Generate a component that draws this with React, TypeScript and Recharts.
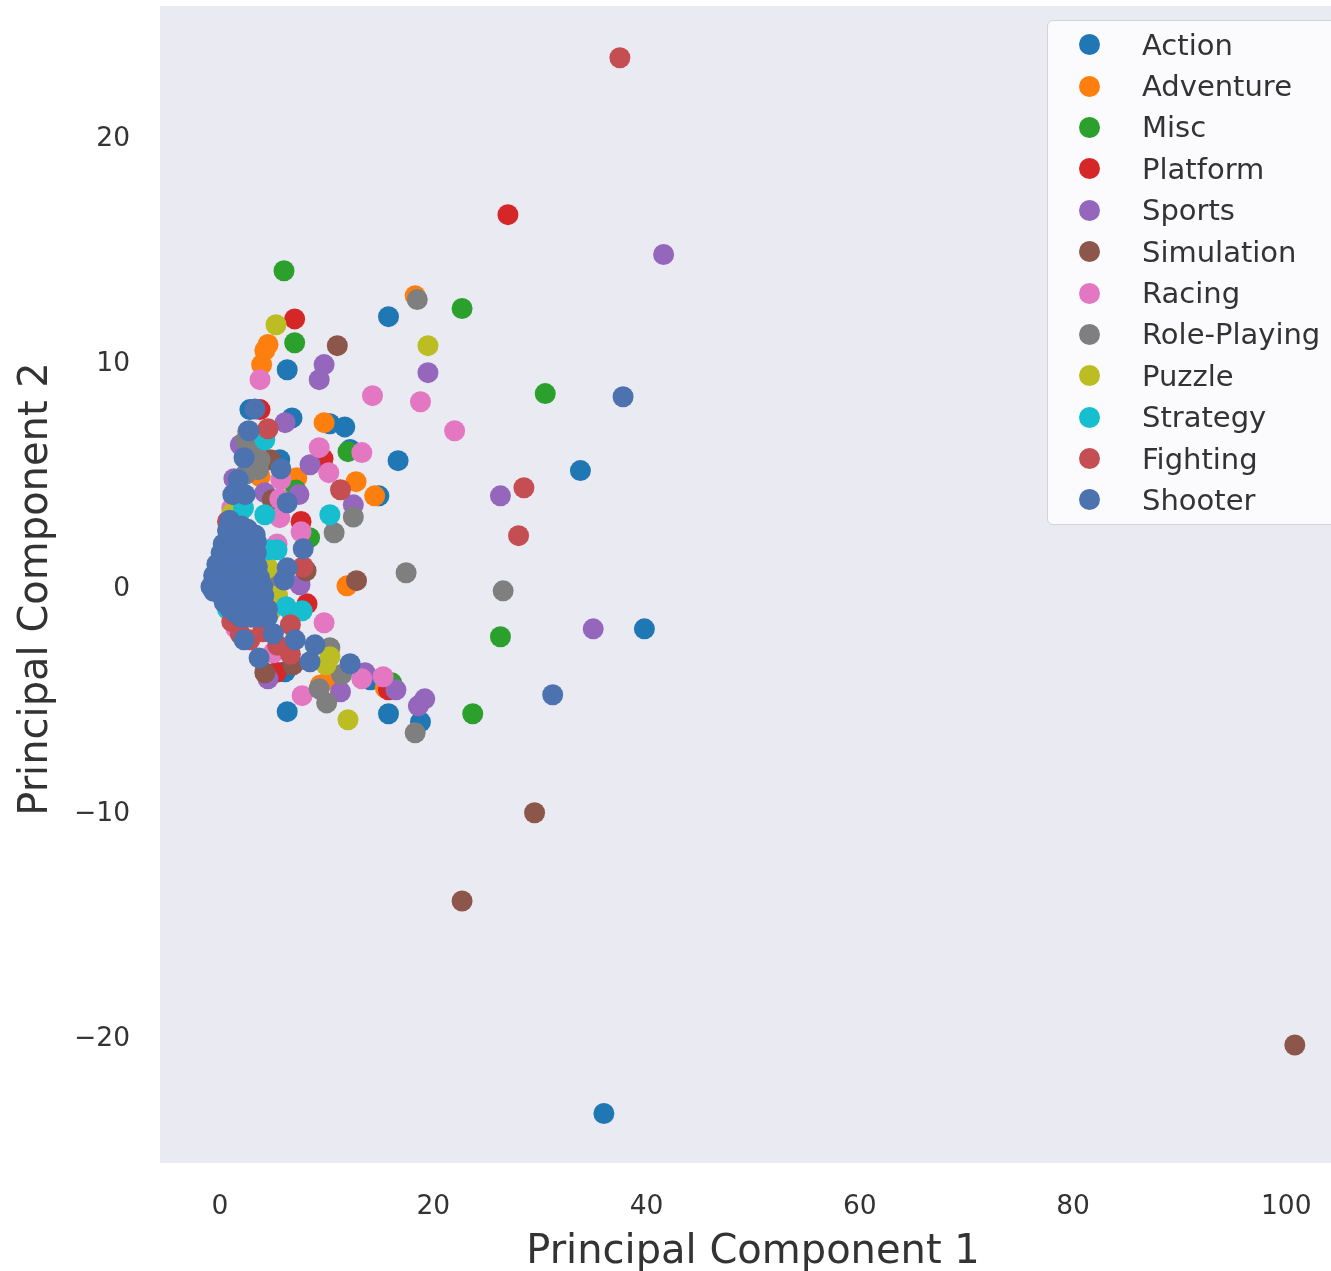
import React from "react"
import { ScatterChart, Scatter, XAxis, YAxis, CartesianGrid, Legend } from "recharts"

type Pt = [number, number]

const action: Pt[] = [
  [36.0, -23.4], [39.8, -1.87], [33.8, 5.16], [15.8, 12.0], [6.3, 9.64], [16.7, 5.6],
  [14.9, 4.04], [11.7, 7.1], [10.3, 7.24], [6.75, 7.5], [5.6, 5.64], [12.2, 6.1],
  [6.3, -5.55], [15.8, -5.64], [18.8, -6.0], [6.1, -3.78], [2.8, 7.87], [14.1, -4.13],
]
const adventure: Pt[] = [
  [18.3, 12.93], [4.5, 10.76], [4.2, 10.5], [3.9, 9.87], [9.76, 7.29], [12.76, 4.67],
  [14.5, 4.04], [11.9, 0.04], [7.2, 4.84], [3.75, 4.9], [9.4, -4.36], [15.5, -4.5], [10.3, -4.1],
]
const misc: Pt[] = [
  [6.0, 14.04], [7.0, 10.84], [22.7, 12.36], [30.5, 8.58], [26.3, -2.22], [23.7, -5.64],
  [12.0, 6.0], [16.1, -4.27], [8.4, 2.18], [7.1, 4.3],
]
const platform: Pt[] = [
  [27.0, 16.53], [7.0, 11.9], [3.75, 7.87], [9.66, 5.69], [7.6, 2.9], [8.16, -0.76],
  [15.8, -4.58], [5.3, -3.8],
]
const sports: Pt[] = [
  [41.6, 14.76], [9.76, 9.87], [9.3, 9.2], [19.5, 9.51], [26.3, 4.04], [35.0, -1.87],
  [6.1, 7.29], [8.44, 5.42], [12.5, 3.64], [19.2, -4.98], [18.6, -5.29], [16.5, -4.58],
  [11.3, -4.67], [4.5, -4.09], [13.6, -3.82], [7.5, 0.09], [4.2, 4.18], [1.9, 6.3], [7.4, 4.1],
  [1.3, 4.8],
]
const simulation: Pt[] = [
  [100.8, -20.36], [29.5, -10.04], [22.7, -13.96], [11.0, 10.71], [12.8, 0.27], [8.07, 0.71],
  [4.2, -3.82], [6.85, -3.47], [4.7, 5.64], [4.9, 3.87],
]
const racing: Pt[] = [
  [14.3, 8.49], [18.8, 8.22], [22.0, 6.93], [3.75, 9.2], [9.3, 6.18], [10.2, 5.07],
  [13.3, 5.96], [5.7, 4.76], [5.6, 3.07], [7.6, 2.44], [9.76, -1.6], [7.7, -4.84],
  [13.3, -4.09], [15.3, -4.0], [5.35, 1.9], [5.0, -2.93], [5.6, 3.9], [1.1, 3.5], [1.5, -1.85],
]
const rolePlaying: Pt[] = [
  [18.5, 12.76], [17.45, 0.62], [26.55, -0.18], [10.7, 2.4], [12.5, 3.1], [18.3, -6.49],
  [9.3, -4.53], [10.0, -5.16], [11.4, -3.9], [10.3, -2.71], [3.75, 5.64], [2.4, 6.5],
  [2.8, 5.2], [3.2, 6.0], [2.4, 5.0], [3.4, 6.3], [3.6, 5.2], [2.6, 6.9], [5.2, 0.1],
]
const puzzle: Pt[] = [
  [19.5, 10.71], [5.25, 11.64], [12.0, -5.91], [10.3, -3.11], [9.94, -3.47], [4.5, 0.84],
  [4.7, -1.11], [2.0, 3.4], [1.1, 3.25], [5.4, -0.4],
]
const strategy: Pt[] = [
  [10.3, 3.2], [4.2, 3.2], [5.35, 1.64], [4.5, 1.64], [6.2, -0.89], [7.7, -1.07], [4.2, 6.53],
  [0.7, -1.0], [2.2, 3.5],
]
const fighting: Pt[] = [
  [37.5, 23.5], [28.5, 4.4], [28.0, 2.27], [4.5, 7.02], [11.3, 4.31], [6.6, -1.69],
  [6.6, -3.0], [5.4, -2.6], [1.1, -1.55], [2.8, -2.36], [4.0, -2.0], [1.9, -2.1],
  [0.7, 2.9], [7.8, 0.89],
]
const shooter: Pt[] = [
  [37.8, 8.44], [31.2, -4.8], [3.28, 7.9], [2.7, 6.93], [2.25, 5.73], [5.7, 5.24],
  [1.7, 4.76], [1.2, 4.09], [2.35, 4.09], [6.3, 3.73], [7.8, 1.69], [6.3, 0.84],
  [6.0, 0.3], [2.25, -2.36], [3.66, -3.16], [5.0, -2.09], [7.05, -2.36], [8.9, -2.58],
  [8.44, -3.33], [12.2, -3.42],
  // dense core near the origin
  [0.9, 2.95], [2, 2.7], [2.6, 2.55],
  [0.7, 2.5], [1.6, 2.5], [2.5, 2.4], [3.3, 2.3],
  [0.3, 1.9], [1.3, 2], [2.2, 2], [3.1, 2], [3.4, 2],
  [0.1, 1.5], [1, 1.5], [1.9, 1.5], [2.8, 1.5], [3.4, 1.5],
  [-0.3, 1], [0.6, 1], [1.5, 1], [2.4, 1], [3.3, 1], [3.5, 0.9],
  [-0.6, 0.5], [0.3, 0.5], [1.2, 0.5], [2.1, 0.5], [3, 0.5], [3.7, 0.4],
  [-0.85, 0], [0, 0], [0.9, 0], [1.8, 0], [2.7, 0], [3.6, 0], [4, 0],
  [-0.6, -0.2], [0.3, -0.5], [1.2, -0.5], [2.1, -0.5], [3, -0.5], [3.9, -0.5], [4.1, -0.4],
  [0.4, -0.7], [0.9, -0.95], [1.8, -1], [2.7, -1], [3.6, -1], [4.45, -1],
  [1.45, -1.16], [2, -1.36], [2.9, -1.36], [3.8, -1.36], [4.45, -1.36],
]

const genres = ["Action", "Adventure", "Misc", "Platform", "Sports", "Simulation", "Racing", "Role-Playing", "Puzzle", "Strategy", "Fighting", "Shooter"]
const colors = ["#1f77b4", "#ff7f0e", "#2ca02c", "#d62728", "#9467bd", "#8c564b", "#e377c2", "#7f7f7f", "#bcbd22", "#17becf", "#c44e52", "#4c72b0"]
const seriesPoints = [action, adventure, misc, platform, sports, simulation, racing, rolePlaying, puzzle, strategy, fighting, shooter]

const xTicks = [0, 20, 40, 60, 80, 100]
const yTicks = [-20, -10, 0, 10, 20]

const FONT = "'DejaVu Sans', sans-serif"
const INK = "#333333"

const minus = (v: number) => (v < 0 ? `\u2212${Math.abs(v)}` : `${v}`)

const Dot = (p: any) => <circle cx={p.cx} cy={p.cy} r={10.5} fill={p.fill} />

function GenreLegend({ payload }: any) {
  return (
    <div
      style={{
        width: 292, height: 505, boxSizing: "border-box", paddingTop: 3,
        background: "rgba(255,255,255,0.8)", border: "1.5px solid #d4d4d8", borderRadius: 6,
        fontFamily: FONT, fontSize: 29, color: INK,
      }}
    >
      {(payload ?? []).map((p: any) => (
        <div key={p.value} style={{ height: 41.4, display: "flex", alignItems: "center" }}>
          <span style={{ width: 21, height: 21, borderRadius: "50%", background: p.color, marginLeft: 31, flexShrink: 0 }} />
          <span style={{ marginLeft: 42, whiteSpace: "nowrap" }}>{p.value}</span>
        </div>
      ))}
    </div>
  )
}

const YTitle = () => (
  <text
    transform="translate(33 589) rotate(-90)"
    textAnchor="middle"
    dominantBaseline="central"
    fontSize={40}
    fill={INK}
    fontFamily={FONT}
  >
    Principal Component 2
  </text>
)

export default function App() {
  return (
    <div style={{ position: "absolute", left: 0, top: 0, width: 1331, height: 1271, overflow: "hidden", background: "#fff", filter: "blur(0.6px)" }}>
      <ScatterChart width={1346} height={1271} margin={{ top: 6, right: 0, bottom: 0, left: 0 }}>
        <CartesianGrid fill="#eaeaf2" horizontal={false} vertical={false} />
        <XAxis
          type="number"
          dataKey="x"
          domain={[-5.63, 105.6]}
          ticks={xTicks}
          height={108}
          axisLine={false}
          tickLine={false}
          tickMargin={26}
          tick={{ fontSize: 26.5, fill: INK, fontFamily: FONT }}
          label={{ value: "Principal Component 1", position: "insideBottom", offset: 8, style: { fontSize: 40, fill: INK, fontFamily: FONT } }}
        />
        <YAxis
          type="number"
          dataKey="y"
          domain={[-25.6, 25.8]}
          ticks={yTicks}
          width={160}
          axisLine={false}
          tickLine={false}
          tickMargin={24}
          tickFormatter={minus}
          tick={{ fontSize: 26.5, fill: INK, fontFamily: FONT }}
          label={{ content: YTitle }}
        />
        <Legend
          content={<GenreLegend />}
          layout="vertical"
          align="center"
          verticalAlign="middle"
          itemSorter={null}
          wrapperStyle={{ left: 1047, top: 20, width: 292 }}
        />
        {genres.map((g, i) => (
          <Scatter
            key={g}
            name={g}
            data={seriesPoints[i].map(([x, y]) => ({ x, y }))}
            fill={colors[i]}
            shape={Dot}
            isAnimationActive={false}
          />
        ))}
      </ScatterChart>
    </div>
  )
}
